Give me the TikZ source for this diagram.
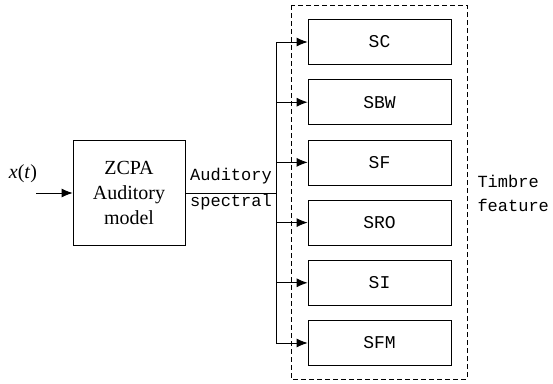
\documentclass[tikz,border=0pt]{standalone}
\usepackage{fontspec}
\setmainfont{Liberation Serif}
\newfontfamily\monofont{Liberation Mono}
\usetikzlibrary{arrows.meta}

\tikzset{
  featbox/.style={draw,line width=0.8pt,minimum width=143pt,minimum height=45pt,
    inner sep=0pt,font=\monofont\fontsize{18}{20}\selectfont},
  link/.style={line width=0.8pt},
  arr/.style={line width=0.8pt,-{Latex[length=11pt,width=9pt]}}
}

\begin{document}
\begin{tikzpicture}[x=1pt,y=-1pt]
\useasboundingbox (0,0) rectangle (553,383);
% input and model
\node[draw,line width=0.8pt,minimum width=112pt,minimum height=105pt,inner sep=0pt,
  align=center,font=\fontsize{20}{25}\selectfont] (zcpa) at (129,192.5)
  {ZCPA\\Auditory\\model};
\coordinate (xin) at (36,193);
\node[font=\fontsize{20}{24}\selectfont] (xlabel) at (23,174) {\textit{x}(\textit{t})};
\draw[arr] (xin) -- (xin -| zcpa.west);
% bus
\coordinate (split) at (276,193);
\draw[link] (zcpa.east |- split) -- (split);
\node[align=center,font=\monofont\fontsize{17}{26}\selectfont] (speclabel) at (231,189)
  {Auditory\\spectral};
% feature boxes
\foreach \name [count=\i] in {SC,SBW,SF,SRO,SI,SFM} {
  \node[featbox] (box\i) at (379.5,{42+60.2*(\i-1)}) {\name};
  \coordinate (bus\i) at (276,{42+60.2*(\i-1)});
  \draw[arr] (bus\i) -- (box\i.west);
}
\draw[link] (bus1) -- (bus6);
% timbre feature group
\draw[dash pattern=on 5pt off 3pt,line width=0.8pt] (291,5) rectangle (467,379);
\node[anchor=west,align=left,font=\monofont\fontsize{17}{24}\selectfont] (timbre) at (474,193)
  {Timbre\\feature};
\end{tikzpicture}
\end{document}
